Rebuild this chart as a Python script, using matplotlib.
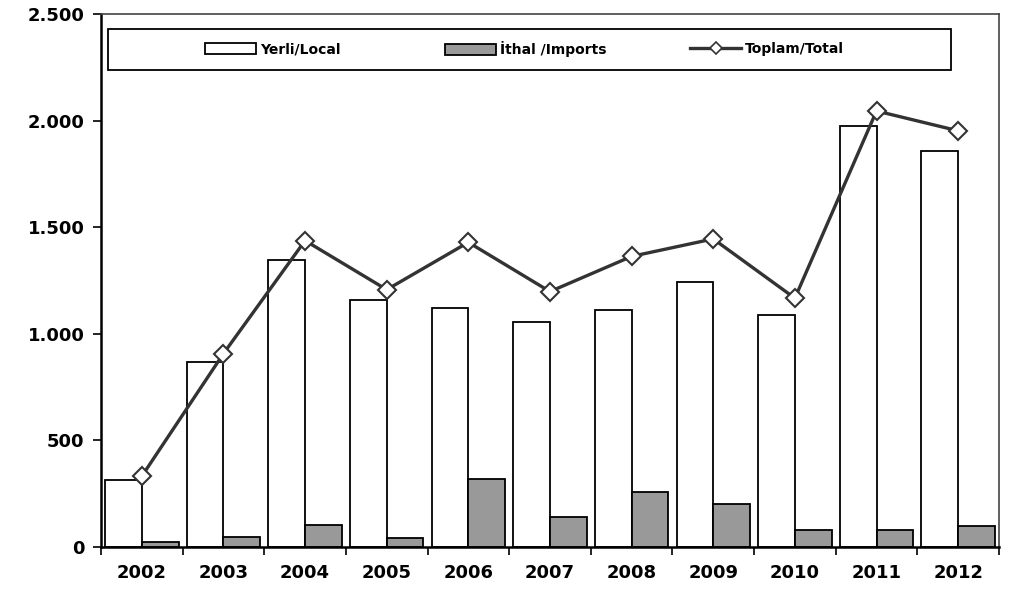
"""
Yerli / İthal / Toplam çubuk + çizgi grafiği (2002-2012)
"""

import numpy as np
import matplotlib
matplotlib.use("Agg")
import matplotlib.pyplot as plt
from matplotlib.ticker import FuncFormatter
from matplotlib.patches import Rectangle, Patch
from matplotlib.lines import Line2D

# ================== Veri ==================
years = ["2002", "2003", "2004", "2005", "2006", "2007",
         "2008", "2009", "2010", "2011", "2012"]
local = [315, 869, 1346, 1159, 1120, 1054, 1112, 1242, 1090, 1973, 1859]
imports = [25, 45, 102, 44, 317, 139, 259, 204, 81, 81, 100]
total = [332, 907, 1437, 1207, 1429, 1198, 1363, 1445, 1167, 2045, 1952]

labels = ["Yerli/Local", "İthal /Imports", "Toplam/Total"]

plt.rcParams['font.family'] = ['DejaVu Sans']

# ================== Çizim ==================
fig = plt.figure(figsize=(10.15, 5.92), dpi=100)
ax = fig.add_axes([0.0995, 0.076, 0.8847, 0.9004])

x = np.arange(len(years))
w = 0.45

ax.bar(x - w / 2, local, width=w, color="white", edgecolor="black",
       linewidth=1.3, zorder=2)
ax.bar(x + w / 2, imports, width=w, color="#999999", edgecolor="black",
       linewidth=1.3, zorder=2)
ax.plot(x, total, color="#333333", linewidth=2.4, marker="D",
        markersize=9, markerfacecolor="white", markeredgecolor="#333333",
        markeredgewidth=1.5, zorder=3)

ax.set_xlim(-0.5, len(years) - 0.5)
ax.set_ylim(0, 2500)
ax.set_yticks(np.arange(0, 2501, 500))
ax.yaxis.set_major_formatter(
    FuncFormatter(lambda v, p: f"{int(v):,}".replace(",", ".")))

# yıl etiketleri ortada, tik çizgileri kategori sınırlarında
ax.set_xticks(x)
ax.set_xticklabels(years)
ax.set_xticks(np.arange(-0.5, len(years)), minor=True)
ax.tick_params(axis="x", which="major", length=0, pad=12)
ax.tick_params(axis="x", which="minor", length=6, width=1.2, direction="out")
ax.tick_params(axis="y", length=6, width=1.2, pad=6)

for lab in ax.get_xticklabels() + ax.get_yticklabels():
    lab.set_fontsize(13)
    lab.set_fontweight("bold")

ax.spines["left"].set_linewidth(1.8)
ax.spines["bottom"].set_linewidth(1.8)
ax.spines["top"].set_linewidth(1.2)
ax.spines["right"].set_linewidth(1.2)
ax.spines["top"].set_color("#444444")
ax.spines["right"].set_color("#444444")

# ================== Lejant ==================
ax.add_patch(Rectangle((0.0078, 0.895), 0.9387, 0.077, transform=ax.transAxes,
                       facecolor="white", edgecolor="black", linewidth=1.3,
                       zorder=4))

handles = [
    Patch(facecolor="white", edgecolor="black", linewidth=1.3),
    Patch(facecolor="#999999", edgecolor="black", linewidth=1.3),
    Line2D([], [], color="#333333", linewidth=2.4, marker="D", markersize=6,
           markerfacecolor="white", markeredgecolor="#333333",
           markeredgewidth=1.2),
]
starts = [0.1158, 0.3831, 0.6559]
legs = []
for h, lab, x0 in zip(handles, labels, starts):
    lg = ax.legend([h], [lab], loc="center left", bbox_to_anchor=(x0, 0.9335),
                   frameon=False, borderpad=0, borderaxespad=0,
                   handlelength=3.7, handleheight=0.75, handletextpad=0.25,
                   prop={"weight": "bold", "size": 10})
    lg.set_zorder(5)
    legs.append(lg)
# son lejant ax.legend_ olarak zaten çiziliyor
for lg in legs[:-1]:
    ax.add_artist(lg)

fig.savefig("out.png", dpi=100, facecolor="white")
